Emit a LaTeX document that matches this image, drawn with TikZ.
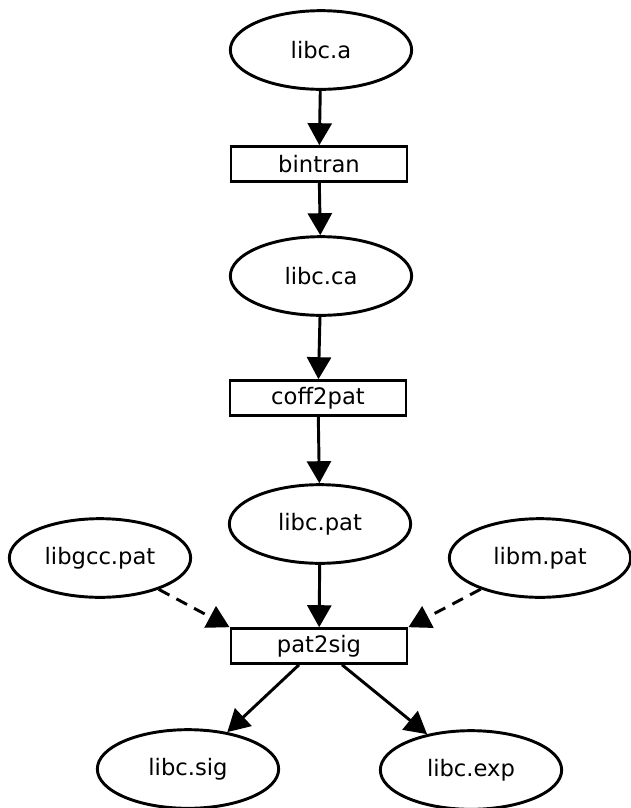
\documentclass[tikz,border=0pt]{standalone}
\usepackage{fontspec}
\setmainfont{DejaVu Sans}
\usetikzlibrary{arrows.meta,shapes.geometric}
\tikzset{lib/.style={ellipse,draw,line width=2.2pt,minimum width=136pt,minimum height=59pt,inner sep=0pt},
 tool/.style={rectangle,draw,line width=2.2pt,minimum width=132pt,minimum height=26pt,inner sep=0pt},
 flow/.style={-{Triangle[length=16.5pt,width=18pt]},line width=2.2pt},
 opt/.style={flow,dash pattern=on 9pt off 6pt}}
\begin{document}
\begin{tikzpicture}[x=0.75pt,y=-0.75pt,font=\fontsize{17}{20}\selectfont]
\useasboundingbox (0,0) rectangle (631,808);
\node[lib](liba) at (321,50){libc.a};
\node[tool](bintran) at (319,164){bintran};
\node[lib](libca) at (321,276){libc.ca};
\node[tool](coff) at (318,398){coff2pat};
\node[lib](libpat) at (320,524){libc.pat};
\node[lib](gccpat) at (100,558){libgcc.pat};
\node[lib](mpat) at (540,558){libm.pat};
\node[tool](pat2sig) at (319,646){pat2sig};
\node[lib](libsig) at (188,769){libc.sig};
\node[lib](libexp) at (471,770){libc.exp};
\draw[flow](liba)--(bintran);\draw[flow](bintran)--(libca);
\draw[flow](libca)--(coff);\draw[flow](coff)--(libpat);
\draw[flow](libpat)--(pat2sig);
\draw[opt](gccpat)--(pat2sig.north west);
\draw[opt](mpat)--(pat2sig.north east);
\draw[flow](pat2sig)--(libsig);\draw[flow](pat2sig)--(libexp);
\end{tikzpicture}
\end{document}
